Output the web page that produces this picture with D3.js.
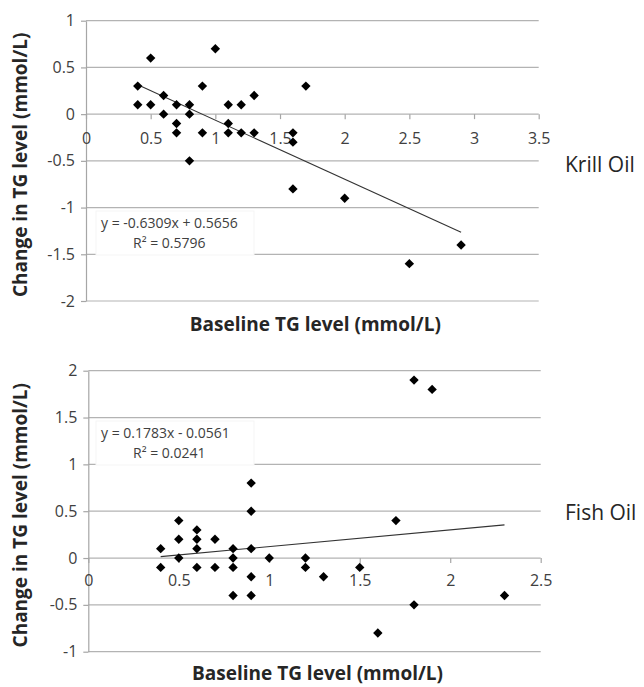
<!DOCTYPE html>
<html>
<head>
<meta charset="utf-8">
<title>Krill oil vs fish oil - change in TG</title>
<style>
  body { margin: 0; background: #fff; }
  .tick text { font-family: "Open Sans", Lato, sans-serif; font-size: 16px; fill: #404040; }
  .ttl { font-family: "Open Sans", Lato, sans-serif; font-weight: bold; font-size: 19px; fill: #262626; }
  .grp { font-family: "Open Sans", Lato, sans-serif; font-size: 21px; fill: #262626; }
  .eq { font-family: "Open Sans", Lato, sans-serif; font-size: 14px; fill: #404040; }
</style>
</head>
<body>
<div id="chart"></div>
<script src="https://d3js.org/d3.v7.min.js"></script>
<script>
// krill oil panel
var krillX = [0.4, 0.4, 0.5, 0.5, 0.6, 0.6, 0.7, 0.7, 0.7, 0.8, 0.8, 0.8, 0.9, 0.9, 1.0,
              1.1, 1.1, 1.1, 1.2, 1.2, 1.3, 1.3, 1.6, 1.6, 1.6, 1.7, 2.0, 2.5, 2.9];
var krillY = [0.3, 0.1, 0.1, 0.6, 0.2, 0.0, 0.1, -0.1, -0.2, 0.1, 0.0, -0.5, 0.3, -0.2, 0.7,
              0.1, -0.1, -0.2, 0.1, -0.2, 0.2, -0.2, -0.2, -0.3, -0.8, 0.3, -0.9, -1.6, -1.4];
var krillXTicks = [0, 0.5, 1, 1.5, 2, 2.5, 3, 3.5];
var krillYTicks = [1, 0.5, 0, -0.5, -1, -1.5, -2];
var krillFit = [-0.6309, 0.5656];
var krillEq = ["y = -0.6309x + 0.5656", "R² = 0.5796"];

// fish oil panel
var fishX = [0.4, 0.4, 0.5, 0.5, 0.5, 0.6, 0.6, 0.6, 0.6, 0.7, 0.7, 0.8, 0.8, 0.8, 0.8,
             0.9, 0.9, 0.9, 0.9, 0.9, 1.0, 1.2, 1.2, 1.3, 1.5, 1.6, 1.7, 1.8, 1.8, 1.9, 2.3];
var fishY = [0.1, -0.1, 0.4, 0.2, 0.0, 0.3, 0.2, 0.1, -0.1, 0.2, -0.1, 0.1, 0.0, -0.1, -0.4,
             0.8, 0.5, 0.1, -0.2, -0.4, 0.0, 0.0, -0.1, -0.2, -0.1, -0.8, 0.4, 1.9, -0.5, 1.8, -0.4];
var fishXTicks = [0, 0.5, 1, 1.5, 2, 2.5];
var fishYTicks = [2, 1.5, 1, 0.5, 0, -0.5, -1];
var fishFit = [0.1783, -0.0561];
var fishEq = ["y = 0.1783x - 0.0561", "R² = 0.0241"];

var svg = d3.select('#chart').append('svg')
  .attr('width', 644)
  .attr('height', 687);

// excel style numbers, plain hyphen for minus
var fmt = function(d) { return String(d); };

function panel(opt) {
  var x = d3.scaleLinear().domain(d3.extent(opt.xTicks)).range([opt.left, opt.right]);
  var y = d3.scaleLinear().domain(d3.extent(opt.yTicks)).range([opt.bottom, opt.top]);
  var g = svg.append('g');

  // gridlines
  g.selectAll('.grid').data(opt.yTicks).enter().append('line')
    .attr('x1', opt.left).attr('x2', opt.right)
    .attr('y1', function(d) { return y(d); }).attr('y2', function(d) { return y(d); })
    .attr('stroke', '#b3b3b3').attr('stroke-width', 1.2);

  // y axis
  var ya = g.append('g').attr('transform', 'translate(' + opt.left + ',0)')
    .call(d3.axisLeft(y).tickValues(opt.yTicks).tickSize(5).tickSizeOuter(0).tickPadding(6)
      .tickFormat(fmt));
  ya.selectAll('path, line').attr('stroke', '#a6a6a6').attr('stroke-width', 1.2);

  // x axis sits on y=0
  var xa = g.append('g').attr('transform', 'translate(0,' + y(0) + ')')
    .call(d3.axisBottom(x).tickValues(opt.xTicks).tickSize(5).tickSizeOuter(0).tickPadding(opt.xPad)
      .tickFormat(fmt));
  xa.selectAll('path, line').attr('stroke', '#a6a6a6').attr('stroke-width', 1.2);
  xa.select('.domain').remove();

  // trend line
  var x0 = d3.min(opt.xs), x1 = d3.max(opt.xs);
  g.append('line')
    .attr('x1', x(x0)).attr('y1', y(opt.fit[0] * x0 + opt.fit[1]))
    .attr('x2', x(x1)).attr('y2', y(opt.fit[0] * x1 + opt.fit[1]))
    .attr('stroke', '#333').attr('stroke-width', 1.1);

  // points
  var sym = d3.symbol().type(d3.symbolSquare).size(44);
  g.selectAll('.pt').data(opt.xs).enter().append('path')
    .attr('d', sym)
    .attr('transform', function(d, i) {
      return 'translate(' + x(d) + ',' + y(opt.ys[i]) + ') rotate(45)';
    })
    .attr('fill', '#000');

  // equation label
  g.append('rect')
    .attr('x', opt.eqX - 5).attr('y', opt.eqY - 17)
    .attr('width', 158).attr('height', 44)
    .attr('fill', '#fff').attr('stroke', '#f5f5f5');
  g.append('text').attr('class', 'eq').attr('x', opt.eqX).attr('y', opt.eqY).text(opt.eq[0]);
  g.append('text').attr('class', 'eq').attr('x', opt.eqX + 32).attr('y', opt.eqY + 20).text(opt.eq[1]);

  // titles
  g.append('text').attr('class', 'ttl')
    .attr('text-anchor', 'middle')
    .attr('x', (opt.left + opt.right) / 2 + 3).attr('y', opt.xTitleY)
    .text('Baseline TG level (mmol/L)');
  g.append('text').attr('class', 'ttl')
    .attr('text-anchor', 'middle')
    .attr('transform', 'translate(27,' + ((opt.top + opt.bottom) / 2 + 4) + ') rotate(-90)')
    .text('Change in TG level (mmol/L)');
  g.append('text').attr('class', 'grp')
    .attr('x', 565).attr('y', opt.grpY)
    .text(opt.name);
}

panel({
  xs: krillX, ys: krillY, xTicks: krillXTicks, yTicks: krillYTicks, fit: krillFit, eq: krillEq,
  left: 86, right: 538.7, top: 20.7, bottom: 301, xPad: 14,
  eqX: 101, eqY: 228, xTitleY: 331, grpY: 172, name: 'Krill Oil'
});

panel({
  xs: fishX, ys: fishY, xTicks: fishXTicks, yTicks: fishYTicks, fit: fishFit, eq: fishEq,
  left: 88.3, right: 540.7, top: 370.7, bottom: 651.7, xPad: 12,
  eqX: 101, eqY: 438, xTitleY: 680, grpY: 520, name: 'Fish Oil'
});
</script>
</body>
</html>
